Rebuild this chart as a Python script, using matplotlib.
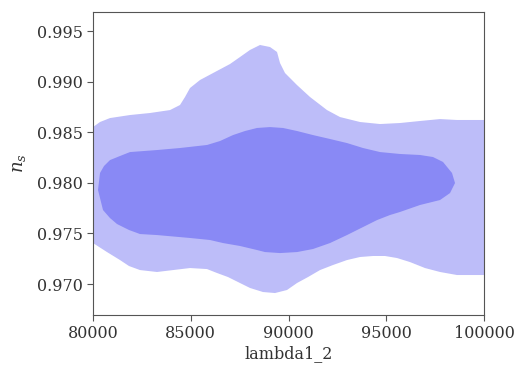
import numpy as np
import matplotlib
matplotlib.use("Agg")
import matplotlib.pyplot as plt

# 2D marginal contours (lambda1_2 vs n_s), boundaries
outer_lam = [79744, 80000, 80358, 80870, 81893, 82916, 83939, 84450, 84706, 84962,
             85473, 86240, 87008, 87519, 88031, 88542, 89054, 89412, 89565, 89821,
             90435, 91100, 91969, 92634, 93657, 94680, 95703, 96726, 97749, 98619,
             100000, 100307,
             100307, 98619, 97749, 96982, 96215, 95550, 94936, 94322, 93657, 92992,
             92276, 91611, 90997, 90435, 89923, 89309, 88696, 88031, 87519, 86905,
             86343, 85831, 84962, 84092, 83274, 82404, 81841, 81381, 80716, 80000, 79744]
outer_ns = [0.98551, 0.98551, 0.98601, 0.98640, 0.98670, 0.98690, 0.98719, 0.98769, 0.98848, 0.98937,
            0.99016, 0.99095, 0.99174, 0.99243, 0.99313, 0.99362, 0.99342, 0.99293, 0.99184, 0.99085,
            0.98966, 0.98848, 0.98719, 0.98650, 0.98601, 0.98581, 0.98591, 0.98611, 0.98630, 0.98621,
            0.98621, 0.98621,
            0.97089, 0.97089, 0.97119, 0.97158, 0.97217, 0.97257, 0.97277, 0.97277, 0.97267, 0.97237,
            0.97188, 0.97138, 0.97069, 0.97010, 0.96941, 0.96911, 0.96921, 0.96961, 0.97010, 0.97069,
            0.97109, 0.97148, 0.97158, 0.97138, 0.97119, 0.97138, 0.97178, 0.97237, 0.97316, 0.97405, 0.97405]

inner_lam = [80870, 81381, 81893, 83274, 84450, 85831, 86496, 87161, 87775, 88389,
             89054, 89719, 90435, 91253, 92123, 92992, 93811, 94680, 95703, 96726,
             97391, 97902, 98363, 98516, 98261, 97749, 96726, 95703, 95192, 94527,
             93811, 92992, 92123, 91253, 90435, 89565, 88798, 88389, 87519, 86650,
             85985, 84962, 83274, 82404, 81841, 81228, 80870, 80512, 80256, 80358, 80563]
inner_ns = [0.98225, 0.98265, 0.98304, 0.98324, 0.98344, 0.98374, 0.98413, 0.98472, 0.98512, 0.98542,
            0.98551, 0.98542, 0.98512, 0.98472, 0.98433, 0.98393, 0.98344, 0.98304, 0.98285, 0.98275,
            0.98255, 0.98206, 0.98097, 0.97998, 0.97899, 0.97830, 0.97781, 0.97712, 0.97682, 0.97632,
            0.97563, 0.97484, 0.97405, 0.97346, 0.97316, 0.97306, 0.97316, 0.97336, 0.97376, 0.97405,
            0.97435, 0.97455, 0.97484, 0.97494, 0.97534, 0.97593, 0.97652, 0.97731, 0.97929, 0.98097, 0.98166]

x_ticks = [80000, 85000, 90000, 95000, 100000]
y_ticks = [0.970, 0.975, 0.980, 0.985, 0.990, 0.995]

plt.rcParams['font.family'] = 'DejaVu Serif'
plt.rcParams['mathtext.fontset'] = 'dejavuserif'

fig = plt.figure(figsize=(5.19, 3.67), dpi=100)
ax = fig.add_axes([0.1792, 0.1417, 0.7534, 0.8256])

ax.fill(outer_lam, outer_ns, color='#BDBDF9', lw=0)
ax.fill(inner_lam, inner_ns, color='#8989F5', lw=0)

ax.set_xlim(80000, 100000)
ax.set_ylim(0.96694, 0.99688)
ax.set_xticks(x_ticks)
ax.set_xticklabels([str(t) for t in x_ticks])
ax.set_yticks(y_ticks)
ax.set_yticklabels([f"{t:.3f}" for t in y_ticks])
ax.tick_params(labelsize=11.5, colors='#555555', labelcolor='#333333', length=4)
for s in ax.spines.values():
    s.set_color('#555555')

ax.set_xlabel('lambda1_2', fontsize=11.5, color='#333333', labelpad=2)
ax.set_ylabel('$n_s$', fontsize=13, color='#333333', labelpad=6)

fig.savefig('out.png', dpi=100)
